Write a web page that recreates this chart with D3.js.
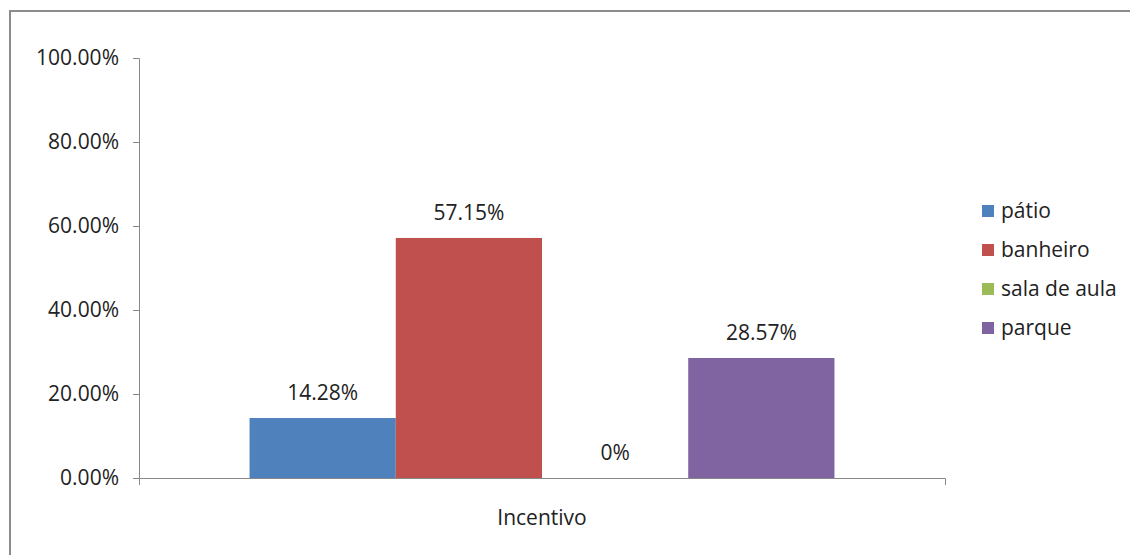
<!DOCTYPE html>
<html>
<head>
<meta charset="utf-8">
<script src="https://cdn.jsdelivr.net/npm/d3@7"></script>
<style>
  body { margin: 0; background: #fff; }
  svg text { font-family: "Open Sans", sans-serif; fill: #222; }
</style>
</head>
<body>
<div id="container"></div>
<script>
const categories = ["Incentivo"];
const series = ["pátio", "banheiro", "sala de aula", "parque"];
const values = [14.28, 57.15, 0, 28.57];
const valueLabels = ["14.28%", "57.15%", "0%", "28.57%"];
const colors = ["#4f81bd", "#c0504d", "#9bbb59", "#8064a2"];
const yTicks = [0, 20, 40, 60, 80, 100];

const width = 1130, height = 555;
const margin = {top: 58, left: 139, right: 185, bottom: 77};

const svg = d3.select("div#container")
    .append("svg")
    .attr("width", width)
    .attr("height", height);

// outer frame
svg.append("rect")
    .attr("x", 10).attr("y", 11)
    .attr("width", width + 20).attr("height", height + 20)
    .attr("fill", "none")
    .attr("stroke", "#8c8c8c")
    .attr("stroke-width", 2);

const y = d3.scaleLinear()
    .domain([0, 100])
    .range([height - margin.bottom, margin.top]);

const x0 = d3.scaleBand()
    .domain(categories)
    .range([margin.left, width - margin.right])
    .paddingInner(0)
    .paddingOuter(0.189);

const x1 = d3.scaleBand()
    .domain(series)
    .range([0, x0.bandwidth()]);

// y axis
const yAxis = svg.append("g")
    .attr("transform", `translate(${margin.left},0)`)
    .call(d3.axisLeft(y).tickValues(yTicks).tickSize(6).tickPadding(14)
        .tickFormat(d => d.toFixed(2) + "%"));
yAxis.select(".domain").attr("stroke", "#888");
yAxis.selectAll(".tick line").attr("stroke", "#888");
yAxis.selectAll(".tick text").attr("font-size", 21).attr("fill", "#222");

// x axis
const xAxis = svg.append("g")
    .attr("transform", `translate(0,${y(0)})`)
    .call(d3.axisBottom(d3.scaleLinear().range([margin.left, width - margin.right]))
        .tickValues([]).tickSizeOuter(7));
xAxis.select(".domain").attr("stroke", "#888");

svg.append("text")
    .attr("x", (margin.left + width - margin.right) / 2)
    .attr("y", 525)
    .attr("text-anchor", "middle")
    .attr("font-size", 21)
    .text(categories[0]);

// bars
const g = svg.append("g")
    .attr("transform", `translate(${x0(categories[0])},0)`);

g.selectAll("rect")
    .data(series)
    .enter()
    .append("rect")
    .attr("x", d => x1(d))
    .attr("width", x1.bandwidth())
    .attr("y", (d, i) => y(values[i]))
    .attr("height", (d, i) => y(0) - y(values[i]))
    .attr("fill", (d, i) => colors[i]);

g.selectAll("text.label")
    .data(series)
    .enter()
    .append("text")
    .attr("class", "label")
    .attr("x", d => x1(d) + x1.bandwidth() / 2)
    .attr("y", (d, i) => y(values[i]) - 18)
    .attr("text-anchor", "middle")
    .attr("font-size", 21)
    .text((d, i) => valueLabels[i]);

// legend
const legend = svg.append("g")
    .attr("transform", "translate(982,205)");

const item = legend.selectAll("g")
    .data(series)
    .enter()
    .append("g")
    .attr("transform", (d, i) => `translate(0,${i * 39})`);

item.append("rect")
    .attr("width", 12).attr("height", 12)
    .attr("fill", (d, i) => colors[i]);

item.append("text")
    .attr("x", 19)
    .attr("y", 13)
    .attr("font-size", 21)
    .text(d => d);
</script>
</body>
</html>
